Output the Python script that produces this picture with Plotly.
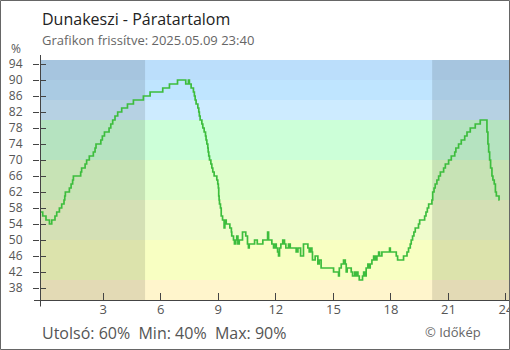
import plotly.graph_objects as go

# ---- data (hours since midnight, relative humidity %) ----
hours = [-0.30, -0.16, 0.01, 0.19, 0.31, 0.48, 0.57, 0.71, 0.83, 0.95, 0.99, 1.02, 1.23, 1.32, 1.40, 1.44,
         1.82, 1.87, 2.05, 2.13, 2.27, 2.48, 2.57, 2.62, 2.87, 2.95, 3.06, 3.30, 3.39, 3.49, 3.61, 3.75,
         3.96, 4.26, 4.57, 5.09, 5.44, 6.10, 6.45, 6.87, 7.30, 7.44, 7.49, 7.58, 7.70, 7.75, 7.79, 7.84,
         7.93, 7.98, 8.01, 8.05, 8.14, 8.19, 8.26, 8.33, 8.36, 8.40, 8.45, 8.47, 8.50, 8.54, 8.61, 8.66,
         8.71, 8.78, 8.92, 8.97, 9.00, 9.02, 9.04, 9.06, 9.11, 9.15, 9.22, 9.30, 9.34, 9.41, 9.60, 9.68,
         9.70, 9.79, 9.84, 9.91, 9.96, 10.02, 10.09, 10.19, 10.26, 10.43, 10.52, 10.57, 10.61, 10.89, 11.03,
         11.32, 11.57, 11.62, 11.79, 11.88, 11.97, 12.02, 12.09, 12.14, 12.19, 12.26, 12.36, 12.45, 12.52,
         12.66, 12.75, 13.06, 13.15, 13.29, 13.44, 13.67, 13.74, 13.79, 13.88, 13.91, 14.05, 14.19, 14.26,
         14.36, 15.01, 15.18, 15.27, 15.31, 15.41, 15.53, 15.62, 15.67, 15.72, 15.93, 16.00, 16.11, 16.18,
         16.23, 16.28, 16.35, 16.52, 16.58, 16.66, 16.71, 16.80, 16.87, 16.92, 17.01, 17.10, 17.18, 17.27,
         17.36, 17.41, 17.53, 17.93, 17.97, 18.28, 18.35, 18.66, 18.84, 18.92, 19.01, 19.06, 19.13, 19.20,
         19.27, 19.44, 19.50, 19.76, 19.83, 19.90, 19.97, 20.14, 20.18, 20.25, 20.31, 20.40, 20.49, 20.58,
         20.75, 20.84, 21.01, 21.15, 21.33, 21.39, 21.53, 21.67, 21.85, 21.97, 22.14, 22.40, 22.66, 23.01,
         23.06, 23.10, 23.15, 23.20, 23.27, 23.32, 23.39, 23.45, 23.50, 23.59, 23.64, 23.67]
humidity = [57, 56, 55, 54, 55, 56, 57, 58, 59, 60, 61, 62, 63, 64, 65, 66,
            67, 68, 69, 70, 71, 72, 73, 74, 75, 76, 77, 78, 79, 80, 81, 82,
            83, 84, 85, 86, 87, 88, 89, 90, 89, 90, 89, 88, 87, 86, 85, 84,
            83, 82, 81, 80, 79, 78, 77, 76, 75, 74, 73, 72, 71, 70, 69, 68,
            67, 66, 65, 64, 63, 61, 60, 59, 58, 56, 55, 53, 55, 54, 53, 52,
            51, 50, 49, 50, 51, 49, 50, 50, 52, 51, 49, 48, 49, 50, 49,
            50, 52, 50, 49, 48, 49, 48, 47, 46, 48, 49, 50, 49, 48,
            49, 48, 47, 48, 46, 49, 48, 47, 48, 47, 45, 46, 44, 45,
            43, 42, 42, 41, 43, 44, 45, 44, 42, 43, 42, 41, 42, 41,
            42, 41, 40, 41, 42, 41, 43, 44, 43, 44, 45, 46, 45, 46,
            47, 46, 47, 48, 47, 46, 45, 46, 47, 48, 49, 50, 51, 52,
            53, 54, 55, 56, 57, 58, 59, 60, 62, 63, 64, 65, 66, 67,
            68, 69, 70, 71, 72, 73, 74, 75, 76, 77, 78, 79, 80, 77,
            74, 72, 70, 68, 66, 65, 64, 62, 61, 61, 60, 60]

y_ticks = [38, 42, 46, 50, 54, 58, 62, 66, 70, 74, 78, 82, 86, 90, 94]
x_ticks = [3, 6, 9, 12, 15, 18, 21, 24]
x_tick_labels = ["3", "6", "9", "12", "15", "18", "21", "24"]

band_low = [35, 40, 50, 60, 70, 80, 85, 90]
band_high = [40, 50, 60, 70, 80, 85, 90, 95]
band_colors = ["#fff5cc", "#f8ffc2", "#effccc", "#e0ffcc", "#ccffd8", "#cdebff", "#bfe5ff", "#bbdefb"]

sunrise = 5.18
sunset = 20.15

title = "Dunakeszi - Páratartalom"
subtitle = "Grafikon frissítve: 2025.05.09 23:40"

X_RANGE = [-0.302, 24.16]
Y_RANGE = [35, 95]
FONT = "Open Sans"

fig = go.Figure()
fig.add_trace(go.Scatter(x=hours, y=humidity, mode="lines", line=dict(color="#3dbd3d", width=1.7, shape="hv"),
                         hoverinfo="skip", showlegend=False))
# invisible copy to host the overlaid axis (inner half of the y ticks)
fig.add_trace(go.Scatter(x=hours, y=humidity, mode="lines", line=dict(width=0), opacity=0,
                         yaxis="y2", hoverinfo="skip", showlegend=False))

shapes = []
for lo, hi, c in zip(band_low, band_high, band_colors):
    shapes.append(dict(type="rect", xref="paper", yref="y", x0=0, x1=1, y0=lo, y1=hi,
                       fillcolor=c, line=dict(width=0), layer="below"))
for a, b in [(X_RANGE[0], sunrise), (sunset, X_RANGE[1])]:
    shapes.append(dict(type="rect", xref="x", yref="paper", x0=a, x1=b, y0=0, y1=1,
                       fillcolor="rgba(0,0,0,0.11)", line=dict(width=0), layer="below"))

W, H = 510, 350
ML, MR, MT, MB = 40, 1, 60, 50
PW, PH = W - ML - MR, H - MT - MB


def px(x):
    return (x - ML) / PW


def py(y):
    return (H - MB - y) / PH


# axis lines (extend slightly beyond the plot area)
shapes.append(dict(type="line", xref="paper", yref="paper", x0=px(40.5), x1=px(40.5), y0=py(306.5), y1=py(55),
                   line=dict(color="#444", width=1), layer="above"))
shapes.append(dict(type="line", xref="paper", yref="paper", x0=px(34), x1=1, y0=py(300.5), y1=py(300.5),
                   line=dict(color="#444", width=1), layer="above"))
# outer frame
shapes.append(dict(type="rect", xref="paper", yref="paper", x0=px(0.5), x1=px(509.5), y0=py(349.5), y1=py(0.5),
                   line=dict(color="#666", width=1), fillcolor="rgba(0,0,0,0)", layer="above"))

annotations = [
    dict(text=title, x=0, y=py(19), xref="paper", yref="paper", xanchor="left", yanchor="middle",
         showarrow=False, font=dict(family=FONT, size=16, color="#222")),
    dict(text=subtitle, x=0, y=py(40), xref="paper", yref="paper", xanchor="left", yanchor="middle",
         showarrow=False, font=dict(family=FONT, size=13, color="#666")),
    dict(text="%", x=px(16), y=py(49), xref="paper", yref="paper", xanchor="center", yanchor="middle",
         showarrow=False, font=dict(family=FONT, size=12, color="#555")),
    dict(text=f"Utolsó: {humidity[-1]}%\u00a0 Min: {min(humidity)}%\u00a0 Max: {max(humidity)}%",
         x=0, y=py(333), xref="paper", yref="paper", xanchor="left", yanchor="middle",
         showarrow=False, font=dict(family=FONT, size=16, color="#555")),
    dict(text="© Időkép", x=px(483), y=py(332), xref="paper", yref="paper", xanchor="right", yanchor="middle",
         showarrow=False, font=dict(family=FONT, size=13, color="#666")),
]

fig.update_layout(
    width=W, height=H,
    margin=dict(l=ML, r=MR, t=MT, b=MB, pad=0, autoexpand=False),
    paper_bgcolor="white", plot_bgcolor="white",
    font=dict(family=FONT, size=13, color="#555"),
    showlegend=False,
    hovermode=False,
    shapes=shapes,
    annotations=annotations,
    xaxis=dict(range=X_RANGE, tickvals=x_ticks, ticktext=x_tick_labels, ticks="inside", ticklen=7,
               tickcolor="#444", tickwidth=1, showgrid=False, zeroline=False, showline=False,
               ticklabeloverflow="allow", automargin=False,
               tickfont=dict(family=FONT, size=13, color="#555"), fixedrange=True),
    yaxis=dict(range=Y_RANGE, tickvals=y_ticks, ticks="outside", ticklen=6, tickcolor="#444", tickwidth=1,
               showgrid=False, zeroline=False, showline=False, ticklabelstandoff=8, automargin=False,
               tickfont=dict(family=FONT, size=12, color="#555"), fixedrange=True),
    yaxis2=dict(range=Y_RANGE, tickvals=y_ticks, ticks="inside", ticklen=6, tickcolor="#444", tickwidth=1,
                overlaying="y", side="left", anchor="x", showticklabels=False, showgrid=False,
                zeroline=False, showline=False, fixedrange=True),
)

fig.write_html("out.html", config={"displayModeBar": False, "staticPlot": True},
               post_script="document.body.style.margin='0';")
